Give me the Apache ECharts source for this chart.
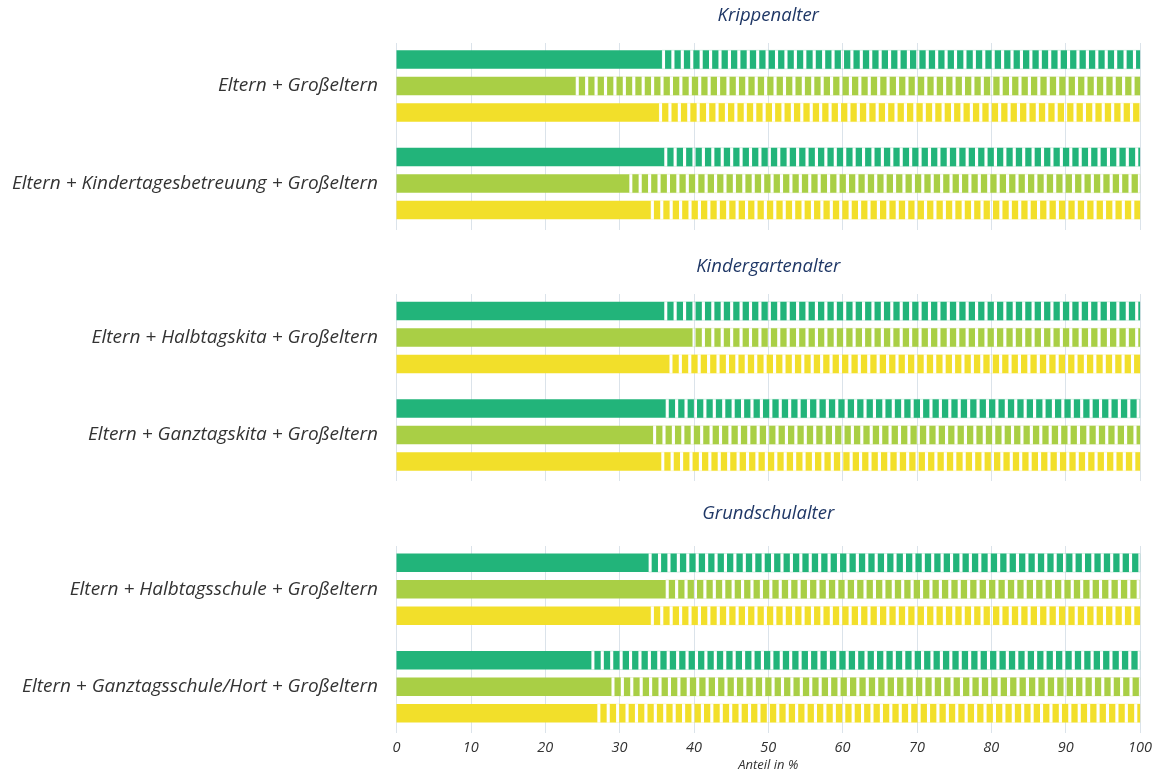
<!DOCTYPE html>
<html>
<head>
<meta charset="utf-8">
<script src="https://cdn.jsdelivr.net/npm/echarts@6/dist/echarts.min.js"></script>
<style>
  html, body { margin: 0; padding: 0; background: #ffffff; }
  #chart { width: 1158px; height: 780px; }
</style>
</head>
<body>
<div id="chart"></div>
<script>
// ---- data -------------------------------------------------------------
const sectionTitles = ['Krippenalter', 'Kindergartenalter', 'Grundschulalter'];

const krippenCategories = [
  'Eltern + Großeltern',
  'Eltern + Kindertagesbetreuung + Großeltern'
];
const kindergartenCategories = [
  'Eltern + Halbtagskita + Großeltern',
  'Eltern + Ganztagskita + Großeltern'
];
const grundschulCategories = [
  'Eltern + Halbtagsschule + Großeltern',
  'Eltern + Ganztagsschule/Hort + Großeltern'
];

// share in %, one entry per row (top to bottom over all three sections)
const darkGreenValues  = [35.7, 36.0, 36.0, 36.2, 33.9, 26.2];
const lightGreenValues = [24.1, 31.3, 39.8, 34.5, 36.2, 28.9];
const yellowValues     = [35.3, 34.2, 36.7, 35.6, 34.2, 27.0];

const axisMax = 100;
const tickStep = 10;
const axisTitle = 'Anteil in %';

// ---- styling ----------------------------------------------------------
const colors = ['#22b47a', '#a9cf45', '#f2df2a'];
const FONT = '"Open Sans"';
const LABEL_COLOR = '#333333';
const TITLE_COLOR = '#1f3766';
const GRID_COLOR = '#dbe3ea';

const W = 1158;
const plotLeft = 396.5;
const plotRight = 18;
const barTops = [37.25, 288.75, 540.5];
const barHeight = 195;
const lineTops = [43, 294, 546];
const lineHeight = 187;
const titleYs = [16, 267, 514];

const BAR_W = 18.5;
const BAR_GAP_PX = 7.95;
const STRIPE_PERIOD = 9.42;
const STRIPE_W = 6.3;

const sections = [krippenCategories, kindergartenCategories, grundschulCategories];
const valueSets = [darkGreenValues, lightGreenValues, yellowValues];

// ---- option -------------------------------------------------------------
const grids = [];
const xAxes = [];
const yAxes = [];
const series = [];

sections.forEach((cats, s) => {
  grids.push({ left: plotLeft, right: plotRight, top: barTops[s], height: barHeight, outerBoundsMode: 'none' });
  xAxes.push({
    type: 'value', gridIndex: s, min: 0, max: axisMax, interval: tickStep,
    axisLine: { show: false }, axisTick: { show: false },
    axisLabel: { show: false }, splitLine: { show: false }
  });
  yAxes.push({
    type: 'category', gridIndex: s, data: cats, inverse: true,
    axisLine: { show: false }, axisTick: { show: false }, splitLine: { show: false },
    axisLabel: {
      margin: 18.5, color: LABEL_COLOR, fontFamily: FONT,
      fontStyle: 'italic', fontSize: 19
    }
  });
});

// grids that only carry the vertical reference lines (and the bottom scale)
sections.forEach((cats, s) => {
  const isLast = s === sections.length - 1;
  grids.push({ left: plotLeft, right: plotRight, top: lineTops[s], height: lineHeight, outerBoundsMode: 'none' });
  xAxes.push({
    type: 'value', gridIndex: sections.length + s, min: 0, max: axisMax, interval: tickStep,
    axisLine: { show: false }, axisTick: { show: false },
    splitLine: { show: true, lineStyle: { color: GRID_COLOR, width: 1 } },
    axisLabel: {
      show: isLast, margin: 7, color: LABEL_COLOR, fontFamily: FONT,
      fontStyle: 'italic', fontSize: 14.5
    },
    name: isLast ? axisTitle : '',
    nameLocation: 'middle', nameGap: 26,
    nameTextStyle: { color: LABEL_COLOR, fontFamily: FONT, fontStyle: 'italic', fontSize: 13 }
  });
  yAxes.push({ type: 'category', gridIndex: sections.length + s, data: [''], show: false });
});

sections.forEach((cats, s) => {
  valueSets.forEach((values, c) => {
    const rows = values.slice(s * 2, s * 2 + cats.length);
    // filled share
    series.push({
      type: 'bar', xAxisIndex: s, yAxisIndex: s,
      data: rows, barWidth: BAR_W, barGap: (BAR_GAP_PX / BAR_W * 100).toFixed(1) + '%',
      itemStyle: { color: colors[c] }, silent: true, z: 3
    });
    // remainder up to 100 %, drawn as vertical stripes
    series.push({
      type: 'custom', xAxisIndex: s, yAxisIndex: s, silent: true, z: 3,
      data: rows.map((v, i) => [v, i]),
      encode: { x: 0, y: 1 },
      renderItem: (params, api) => {
        const v = api.value(0);
        const cat = api.value(1);
        const start = api.coord([v, cat]);
        const end = api.coord([axisMax, cat]);
        const yc = start[1] + (c - 1) * (BAR_W + BAR_GAP_PX);
        const y = yc - BAR_W / 2;
        const children = [{
          type: 'rect',
          shape: { x: start[0], y: y, width: end[0] - start[0], height: BAR_W },
          style: { fill: 'none', stroke: colors[c], lineWidth: 1, opacity: 0.2 }
        }];
        for (let x = start[0] + (STRIPE_PERIOD - STRIPE_W); x < end[0]; x += STRIPE_PERIOD) {
          children.push({
            type: 'rect',
            shape: { x: x, y: y, width: Math.min(STRIPE_W, end[0] - x), height: BAR_W },
            style: { fill: colors[c] }
          });
        }
        return { type: 'group', children: children };
      }
    });
  });
});

const titleX = plotLeft + (W - plotLeft - plotRight) / 2;
const graphics = sectionTitles.map((t, s) => ({
  type: 'text', x: titleX, y: titleYs[s], silent: true,
  style: {
    text: t, fill: TITLE_COLOR, font: 'italic 18.5px ' + FONT,
    align: 'center', verticalAlign: 'middle',
    textAlign: 'center', textVerticalAlign: 'middle'
  }
}));

const chart = echarts.init(document.getElementById('chart'), null, { renderer: 'canvas' });
chart.setOption({
  animation: false,
  backgroundColor: '#ffffff',
  grid: grids,
  xAxis: xAxes,
  yAxis: yAxes,
  series: series,
  graphic: graphics
});
</script>
</body>
</html>
